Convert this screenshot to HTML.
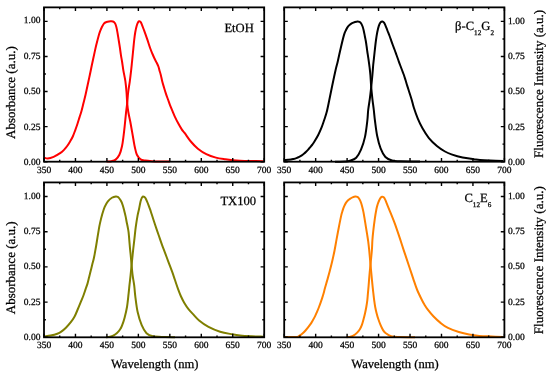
<!DOCTYPE html><html><head><meta charset="utf-8"><style>html,body{margin:0;padding:0;background:#fff;}svg{display:block;will-change:transform}</style></head><body>
<svg width="550" height="376" viewBox="0 0 550 376">
<rect width="550" height="376" fill="#fff"/>
<g font-family="'Liberation Serif', serif" fill="#000" text-rendering="geometricPrecision" stroke="#000" stroke-width="0.25">
<path d="M44.30,157.60 C44.87,157.75 46.15,158.63 47.70,158.50 C49.25,158.37 51.47,157.73 53.60,156.80 C55.73,155.87 58.73,154.10 60.50,152.90 C62.27,151.70 63.08,150.75 64.20,149.60 C65.32,148.45 66.22,147.35 67.20,146.00 C68.18,144.65 69.17,143.08 70.10,141.50 C71.03,139.92 71.95,138.37 72.80,136.50 C73.65,134.63 74.42,132.43 75.20,130.30 C75.98,128.17 76.78,125.85 77.50,123.70 C78.22,121.55 78.83,119.52 79.50,117.40 C80.17,115.28 80.83,113.40 81.50,111.00 C82.17,108.60 82.82,105.75 83.50,103.00 C84.18,100.25 84.80,98.00 85.60,94.50 C86.40,91.00 87.60,85.25 88.30,82.00 C89.00,78.75 89.28,77.45 89.80,75.00 C90.32,72.55 90.87,69.85 91.40,67.30 C91.93,64.75 92.47,62.18 93.00,59.70 C93.53,57.22 94.07,54.80 94.60,52.40 C95.13,50.00 95.53,48.05 96.20,45.30 C96.87,42.55 97.93,38.28 98.60,35.90 C99.27,33.52 99.67,32.45 100.20,31.00 C100.73,29.55 101.15,28.48 101.80,27.20 C102.45,25.92 103.32,24.17 104.10,23.30 C104.88,22.43 105.70,22.32 106.50,22.00 C107.30,21.68 108.15,21.52 108.90,21.40 C109.65,21.28 110.33,21.28 111.00,21.30 C111.67,21.32 112.32,21.28 112.90,21.50 C113.48,21.72 114.05,22.10 114.50,22.60 C114.95,23.10 115.20,23.37 115.60,24.50 C116.00,25.63 116.42,27.00 116.90,29.40 C117.38,31.80 118.02,35.97 118.50,38.90 C118.98,41.83 119.40,44.33 119.80,47.00 C120.20,49.67 120.50,52.32 120.90,54.90 C121.30,57.48 121.78,59.88 122.20,62.50 C122.62,65.12 122.87,67.47 123.40,70.60 C123.93,73.73 124.88,77.73 125.40,81.30 C125.92,84.87 126.20,88.38 126.50,92.00 C126.80,95.62 126.90,99.67 127.20,103.00 C127.50,106.33 127.80,108.95 128.30,112.00 C128.80,115.05 129.57,117.98 130.20,121.30 C130.83,124.62 131.53,128.70 132.10,131.90 C132.67,135.10 133.15,137.98 133.60,140.50 C134.05,143.02 134.25,144.62 134.80,147.00 C135.35,149.38 135.93,152.75 136.90,154.80 C137.87,156.85 139.18,158.33 140.60,159.30 C142.02,160.27 143.53,160.28 145.40,160.60 C147.27,160.92 149.37,161.05 151.80,161.20 C154.23,161.35 156.97,161.43 160.00,161.50 C163.03,161.57 168.33,161.58 170.00,161.60" fill="none" stroke="#ff0000" stroke-width="2" stroke-linejoin="round" stroke-linecap="butt"/>
<path d="M106.50,161.50 C106.83,161.48 107.68,161.45 108.50,161.40 C109.32,161.35 110.22,161.50 111.40,161.20 C112.58,160.90 114.27,160.67 115.60,159.60 C116.93,158.53 118.33,157.02 119.40,154.80 C120.47,152.58 121.30,149.50 122.00,146.30 C122.70,143.10 123.12,139.32 123.60,135.60 C124.08,131.88 124.48,127.93 124.90,124.00 C125.32,120.07 125.72,115.50 126.10,112.00 C126.48,108.50 126.85,106.33 127.20,103.00 C127.55,99.67 127.77,95.62 128.20,92.00 C128.63,88.38 129.32,84.87 129.80,81.30 C130.28,77.73 130.73,73.82 131.10,70.60 C131.47,67.38 131.68,65.10 132.00,62.00 C132.32,58.90 132.63,55.67 133.00,52.00 C133.37,48.33 133.82,43.33 134.20,40.00 C134.58,36.67 134.88,34.37 135.30,32.00 C135.72,29.63 136.22,27.47 136.70,25.80 C137.18,24.13 137.78,22.75 138.20,22.00 C138.62,21.25 138.82,21.32 139.20,21.30 C139.58,21.28 140.10,21.48 140.50,21.90 C140.90,22.32 141.02,22.42 141.60,23.80 C142.18,25.18 143.08,27.68 144.00,30.20 C144.92,32.72 146.05,35.85 147.10,38.90 C148.15,41.95 149.40,45.98 150.30,48.50 C151.20,51.02 151.80,52.33 152.50,54.00 C153.20,55.67 153.80,57.03 154.50,58.50 C155.20,59.97 156.05,61.47 156.70,62.80 C157.35,64.13 157.93,65.22 158.40,66.50 C158.87,67.78 159.10,69.08 159.50,70.50 C159.90,71.92 160.35,73.22 160.80,75.00 C161.25,76.78 161.67,79.12 162.20,81.20 C162.73,83.28 163.37,85.38 164.00,87.50 C164.63,89.62 165.33,91.90 166.00,93.90 C166.67,95.90 167.33,97.63 168.00,99.50 C168.67,101.37 169.28,103.23 170.00,105.10 C170.72,106.97 171.52,108.83 172.30,110.70 C173.08,112.57 173.72,114.20 174.70,116.30 C175.68,118.40 177.00,121.08 178.20,123.30 C179.40,125.52 180.80,127.95 181.90,129.60 C183.00,131.25 183.32,131.22 184.80,133.20 C186.28,135.18 188.62,138.92 190.80,141.50 C192.98,144.08 195.32,146.60 197.90,148.70 C200.48,150.80 203.30,152.62 206.30,154.10 C209.30,155.58 212.70,156.73 215.90,157.60 C219.10,158.47 222.65,158.87 225.50,159.30 C228.35,159.73 230.58,159.97 233.00,160.20 C235.42,160.43 237.17,160.57 240.00,160.70 C242.83,160.83 246.13,160.92 250.00,161.00 C253.87,161.08 261.00,161.17 263.20,161.20" fill="none" stroke="#ff0000" stroke-width="2" stroke-linejoin="round" stroke-linecap="butt"/>
<rect x="44.00" y="7.37" width="220.20" height="154.33" fill="none" stroke="#000" stroke-width="1.80"/>
<path d="M44.00,161.70V158.10M44.00,7.37V10.97M59.73,161.70V159.80M59.73,7.37V9.27M75.46,161.70V158.10M75.46,7.37V10.97M91.19,161.70V159.80M91.19,7.37V9.27M106.91,161.70V158.10M106.91,7.37V10.97M122.64,161.70V159.80M122.64,7.37V9.27M138.37,161.70V158.10M138.37,7.37V10.97M154.10,161.70V159.80M154.10,7.37V9.27M169.83,161.70V158.10M169.83,7.37V10.97M185.56,161.70V159.80M185.56,7.37V9.27M201.29,161.70V158.10M201.29,7.37V10.97M217.01,161.70V159.80M217.01,7.37V9.27M232.74,161.70V158.10M232.74,7.37V10.97M248.47,161.70V159.80M248.47,7.37V9.27M264.20,161.70V158.10M264.20,7.37V10.97M44.00,161.70H47.60M264.20,161.70H260.60M44.00,144.16H45.90M264.20,144.16H262.30M44.00,126.62H47.60M264.20,126.62H260.60M44.00,109.09H45.90M264.20,109.09H262.30M44.00,91.55H47.60M264.20,91.55H260.60M44.00,74.01H45.90M264.20,74.01H262.30M44.00,56.47H47.60M264.20,56.47H260.60M44.00,38.94H45.90M264.20,38.94H262.30M44.00,21.40H47.60M264.20,21.40H260.60" stroke="#000" stroke-width="1.40" fill="none"/>
<text x="44.00" y="172.90" font-size="9.50" text-anchor="middle">350</text>
<text x="75.46" y="172.90" font-size="9.50" text-anchor="middle">400</text>
<text x="106.91" y="172.90" font-size="9.50" text-anchor="middle">450</text>
<text x="138.37" y="172.90" font-size="9.50" text-anchor="middle">500</text>
<text x="169.83" y="172.90" font-size="9.50" text-anchor="middle">550</text>
<text x="201.29" y="172.90" font-size="9.50" text-anchor="middle">600</text>
<text x="232.74" y="172.90" font-size="9.50" text-anchor="middle">650</text>
<text x="264.20" y="172.90" font-size="9.50" text-anchor="middle">700</text>
<text x="40.40" y="165.00" font-size="9.50" text-anchor="end">0.00</text>
<text x="40.40" y="129.57" font-size="9.50" text-anchor="end">0.25</text>
<text x="40.40" y="94.15" font-size="9.50" text-anchor="end">0.50</text>
<text x="40.40" y="58.72" font-size="9.50" text-anchor="end">0.75</text>
<text x="40.40" y="23.30" font-size="9.50" text-anchor="end">1.00</text>
<path d="M284.90,159.90 C285.42,159.88 287.00,159.85 288.00,159.80 C289.00,159.75 289.98,159.73 290.90,159.60 C291.82,159.47 292.58,159.25 293.50,159.00 C294.42,158.75 295.45,158.45 296.40,158.10 C297.35,157.75 298.30,157.35 299.20,156.90 C300.10,156.45 300.97,155.95 301.80,155.40 C302.63,154.85 303.48,154.20 304.20,153.60 C304.92,153.00 305.43,152.47 306.10,151.80 C306.77,151.13 307.50,150.38 308.20,149.60 C308.90,148.82 309.58,147.97 310.30,147.10 C311.02,146.23 311.78,145.37 312.50,144.40 C313.22,143.43 313.65,142.87 314.60,141.30 C315.55,139.73 317.05,137.27 318.20,135.00 C319.35,132.73 320.50,130.20 321.50,127.70 C322.50,125.20 323.33,122.60 324.20,120.00 C325.07,117.40 325.87,115.35 326.70,112.10 C327.53,108.85 328.32,104.73 329.20,100.50 C330.08,96.27 330.93,91.78 332.00,86.70 C333.07,81.62 334.63,74.23 335.60,70.00 C336.57,65.77 336.90,65.15 337.80,61.30 C338.70,57.45 339.95,51.35 341.00,46.90 C342.05,42.45 343.27,37.42 344.10,34.60 C344.93,31.78 345.42,31.25 346.00,30.00 C346.58,28.75 346.97,27.97 347.60,27.10 C348.23,26.23 349.05,25.45 349.80,24.80 C350.55,24.15 351.23,23.67 352.10,23.20 C352.97,22.73 354.10,22.30 355.00,22.00 C355.90,21.70 356.75,21.43 357.50,21.40 C358.25,21.37 358.88,21.45 359.50,21.80 C360.12,22.15 360.68,22.72 361.20,23.50 C361.72,24.28 362.18,25.33 362.60,26.50 C363.02,27.67 363.33,28.92 363.70,30.50 C364.07,32.08 364.45,34.25 364.80,36.00 C365.15,37.75 365.48,39.17 365.80,41.00 C366.12,42.83 366.45,45.25 366.70,47.00 C366.95,48.75 367.02,49.57 367.30,51.50 C367.58,53.43 368.02,55.93 368.40,58.60 C368.78,61.27 369.27,64.77 369.60,67.50 C369.93,70.23 370.13,71.75 370.40,75.00 C370.67,78.25 370.87,83.00 371.20,87.00 C371.53,91.00 371.97,95.17 372.40,99.00 C372.83,102.83 373.37,106.33 373.80,110.00 C374.23,113.67 374.43,116.67 375.00,121.00 C375.57,125.33 376.27,131.43 377.20,136.00 C378.13,140.57 379.23,144.90 380.60,148.40 C381.97,151.90 383.50,154.98 385.40,157.00 C387.30,159.02 389.57,159.80 392.00,160.50 C394.43,161.20 395.33,161.05 400.00,161.20 C404.67,161.35 416.67,161.37 420.00,161.40" fill="none" stroke="#000000" stroke-width="2" stroke-linejoin="round" stroke-linecap="butt"/>
<path d="M335.00,161.70 C336.67,161.67 342.53,161.65 345.00,161.50 C347.47,161.35 347.93,161.43 349.80,160.80 C351.67,160.17 354.33,159.55 356.20,157.70 C358.07,155.85 359.53,153.17 361.00,149.70 C362.47,146.23 363.95,141.68 365.00,136.90 C366.05,132.12 366.77,125.48 367.30,121.00 C367.83,116.52 367.78,113.67 368.20,110.00 C368.62,106.33 369.30,102.83 369.80,99.00 C370.30,95.17 370.77,91.00 371.20,87.00 C371.63,83.00 372.07,78.67 372.40,75.00 C372.73,71.33 372.95,67.73 373.20,65.00 C373.45,62.27 373.62,61.22 373.90,58.60 C374.18,55.98 374.55,52.40 374.90,49.30 C375.25,46.20 375.60,42.88 376.00,40.00 C376.40,37.12 376.82,34.40 377.30,32.00 C377.78,29.60 378.37,27.22 378.90,25.60 C379.43,23.98 379.90,23.00 380.50,22.30 C381.10,21.60 381.92,21.35 382.50,21.40 C383.08,21.45 383.53,21.98 384.00,22.60 C384.47,23.22 384.73,23.78 385.30,25.10 C385.87,26.42 386.68,28.68 387.40,30.50 C388.12,32.32 388.95,34.28 389.60,36.00 C390.25,37.72 390.77,39.30 391.30,40.80 C391.83,42.30 392.23,43.47 392.80,45.00 C393.37,46.53 394.08,48.33 394.70,50.00 C395.32,51.67 395.90,53.33 396.50,55.00 C397.10,56.67 397.70,58.33 398.30,60.00 C398.90,61.67 399.48,63.33 400.10,65.00 C400.72,66.67 401.37,68.33 402.00,70.00 C402.63,71.67 403.32,73.33 403.90,75.00 C404.48,76.67 404.98,78.33 405.50,80.00 C406.02,81.67 406.48,83.33 407.00,85.00 C407.52,86.67 408.07,88.33 408.60,90.00 C409.13,91.67 409.65,93.25 410.20,95.00 C410.75,96.75 411.30,98.42 411.90,100.50 C412.50,102.58 412.82,104.48 413.80,107.50 C414.78,110.52 416.35,115.13 417.80,118.60 C419.25,122.07 420.65,125.05 422.50,128.30 C424.35,131.55 426.50,135.15 428.90,138.10 C431.30,141.05 434.22,143.77 436.90,146.00 C439.58,148.23 442.57,150.10 445.00,151.50 C447.43,152.90 448.57,153.38 451.50,154.40 C454.43,155.42 458.88,156.80 462.60,157.60 C466.32,158.40 470.90,158.80 473.80,159.20 C476.70,159.60 477.30,159.77 480.00,160.00 C482.70,160.23 486.12,160.42 490.00,160.60 C493.88,160.78 501.08,161.02 503.30,161.10" fill="none" stroke="#000000" stroke-width="2" stroke-linejoin="round" stroke-linecap="butt"/>
<rect x="284.20" y="7.37" width="220.20" height="154.33" fill="none" stroke="#000" stroke-width="1.80"/>
<path d="M284.20,161.70V158.10M284.20,7.37V10.97M299.93,161.70V159.80M299.93,7.37V9.27M315.66,161.70V158.10M315.66,7.37V10.97M331.39,161.70V159.80M331.39,7.37V9.27M347.11,161.70V158.10M347.11,7.37V10.97M362.84,161.70V159.80M362.84,7.37V9.27M378.57,161.70V158.10M378.57,7.37V10.97M394.30,161.70V159.80M394.30,7.37V9.27M410.03,161.70V158.10M410.03,7.37V10.97M425.76,161.70V159.80M425.76,7.37V9.27M441.49,161.70V158.10M441.49,7.37V10.97M457.21,161.70V159.80M457.21,7.37V9.27M472.94,161.70V158.10M472.94,7.37V10.97M488.67,161.70V159.80M488.67,7.37V9.27M504.40,161.70V158.10M504.40,7.37V10.97M284.20,161.70H287.80M504.40,161.70H500.80M284.20,144.16H286.10M504.40,144.16H502.50M284.20,126.62H287.80M504.40,126.62H500.80M284.20,109.09H286.10M504.40,109.09H502.50M284.20,91.55H287.80M504.40,91.55H500.80M284.20,74.01H286.10M504.40,74.01H502.50M284.20,56.47H287.80M504.40,56.47H500.80M284.20,38.94H286.10M504.40,38.94H502.50M284.20,21.40H287.80M504.40,21.40H500.80" stroke="#000" stroke-width="1.40" fill="none"/>
<text x="284.20" y="172.90" font-size="9.50" text-anchor="middle">350</text>
<text x="315.66" y="172.90" font-size="9.50" text-anchor="middle">400</text>
<text x="347.11" y="172.90" font-size="9.50" text-anchor="middle">450</text>
<text x="378.57" y="172.90" font-size="9.50" text-anchor="middle">500</text>
<text x="410.03" y="172.90" font-size="9.50" text-anchor="middle">550</text>
<text x="441.49" y="172.90" font-size="9.50" text-anchor="middle">600</text>
<text x="472.94" y="172.90" font-size="9.50" text-anchor="middle">650</text>
<text x="504.40" y="172.90" font-size="9.50" text-anchor="middle">700</text>
<text x="508.10" y="165.20" font-size="9.50">0.00</text>
<text x="508.10" y="129.77" font-size="9.50">0.25</text>
<text x="508.10" y="94.35" font-size="9.50">0.50</text>
<text x="508.10" y="58.92" font-size="9.50">0.75</text>
<text x="508.10" y="23.50" font-size="9.50">1.00</text>
<path d="M44.70,336.40 C45.68,336.26 48.50,336.03 50.60,335.59 C52.70,335.16 55.52,334.44 57.30,333.79 C59.08,333.14 59.87,332.69 61.30,331.68 C62.73,330.68 64.35,329.31 65.90,327.77 C67.45,326.23 69.15,324.34 70.60,322.45 C72.05,320.56 73.38,318.67 74.60,316.43 C75.82,314.19 76.80,311.58 77.90,309.01 C79.00,306.43 80.23,303.36 81.20,300.98 C82.17,298.61 82.97,296.74 83.70,294.76 C84.43,292.79 84.97,291.00 85.60,289.14 C86.23,287.29 86.92,285.62 87.50,283.63 C88.08,281.64 88.57,279.35 89.10,277.21 C89.63,275.07 90.17,272.93 90.70,270.79 C91.23,268.65 91.77,266.49 92.30,264.36 C92.83,262.24 93.43,260.15 93.90,258.04 C94.37,255.94 94.72,253.81 95.10,251.72 C95.48,249.63 95.80,247.89 96.20,245.50 C96.60,243.11 97.08,239.94 97.50,237.38 C97.92,234.82 98.30,232.44 98.70,230.15 C99.10,227.86 99.30,226.33 99.90,223.63 C100.50,220.94 101.50,216.81 102.30,214.00 C103.10,211.19 103.77,208.90 104.70,206.78 C105.63,204.66 106.70,202.77 107.90,201.26 C109.10,199.76 110.57,198.55 111.90,197.75 C113.23,196.95 114.92,196.58 115.90,196.45 C116.88,196.31 117.25,196.65 117.80,196.95 C118.35,197.25 118.62,197.50 119.20,198.25 C119.78,199.00 120.68,200.22 121.30,201.46 C121.92,202.70 122.40,204.07 122.90,205.68 C123.40,207.28 123.85,209.30 124.30,211.09 C124.75,212.88 125.22,214.64 125.60,216.41 C125.98,218.18 126.25,219.95 126.60,221.73 C126.95,223.50 127.37,225.27 127.70,227.04 C128.03,228.82 128.33,230.17 128.60,232.36 C128.87,234.55 129.07,237.49 129.30,240.19 C129.53,242.88 129.77,246.01 130.00,248.51 C130.23,251.02 130.48,253.01 130.70,255.24 C130.92,257.46 130.98,258.53 131.30,261.86 C131.62,265.18 132.12,271.29 132.60,275.20 C133.08,279.11 133.75,281.80 134.20,285.33 C134.65,288.86 134.72,291.87 135.30,296.37 C135.88,300.87 136.63,307.52 137.70,312.32 C138.77,317.12 140.23,321.68 141.70,325.16 C143.17,328.64 144.63,331.33 146.50,333.19 C148.37,335.04 149.82,335.66 152.90,336.30 C155.98,336.93 161.32,336.85 165.00,337.00 C168.68,337.15 173.33,337.17 175.00,337.20" fill="none" stroke="#7f7f00" stroke-width="2" stroke-linejoin="round" stroke-linecap="butt"/>
<path d="M106.00,337.20 C106.42,337.17 107.67,337.12 108.50,337.00 C109.33,336.88 110.07,336.82 111.00,336.50 C111.93,336.18 113.10,335.69 114.10,335.09 C115.10,334.49 116.15,333.64 117.00,332.89 C117.85,332.13 118.60,331.30 119.20,330.58 C119.80,329.86 120.12,329.42 120.60,328.57 C121.08,327.72 121.43,327.28 122.10,325.46 C122.77,323.64 123.78,320.71 124.60,317.64 C125.42,314.56 126.33,311.00 127.00,307.00 C127.67,303.01 128.18,297.35 128.60,293.66 C129.02,289.96 129.17,287.91 129.50,284.83 C129.83,281.75 130.20,279.03 130.60,275.20 C131.00,271.37 131.45,266.30 131.90,261.86 C132.35,257.41 132.87,252.46 133.30,248.51 C133.73,244.57 134.10,241.71 134.50,238.18 C134.90,234.65 135.18,231.14 135.70,227.35 C136.22,223.55 137.05,218.43 137.60,215.41 C138.15,212.38 138.50,211.54 139.00,209.19 C139.50,206.83 140.13,203.15 140.60,201.26 C141.07,199.37 141.40,198.65 141.80,197.85 C142.20,197.05 142.58,196.61 143.00,196.45 C143.42,196.28 143.90,196.58 144.30,196.85 C144.70,197.11 144.95,197.30 145.40,198.05 C145.85,198.80 146.47,200.16 147.00,201.36 C147.53,202.57 148.07,203.89 148.60,205.27 C149.13,206.66 149.68,208.18 150.20,209.69 C150.72,211.19 150.88,211.79 151.70,214.30 C152.52,216.81 153.95,221.29 155.10,224.74 C156.25,228.18 157.42,231.53 158.60,234.97 C159.78,238.41 161.25,242.76 162.20,245.40 C163.15,248.05 163.28,248.13 164.30,250.82 C165.32,253.51 166.97,257.99 168.30,261.56 C169.63,265.12 171.22,269.20 172.30,272.19 C173.38,275.18 173.85,276.74 174.80,279.51 C175.75,282.29 177.00,286.10 178.00,288.84 C179.00,291.59 179.77,293.66 180.80,295.97 C181.83,298.27 182.92,300.50 184.20,302.69 C185.48,304.88 186.98,307.15 188.50,309.11 C190.02,311.07 191.53,312.54 193.30,314.43 C195.07,316.32 196.57,318.37 199.10,320.45 C201.63,322.52 205.00,324.99 208.50,326.87 C212.00,328.74 216.15,330.44 220.10,331.68 C224.05,332.92 228.88,333.65 232.20,334.29 C235.52,334.93 236.70,335.16 240.00,335.49 C243.30,335.83 248.12,336.10 252.00,336.30 C255.88,336.50 261.42,336.63 263.30,336.70" fill="none" stroke="#7f7f00" stroke-width="2" stroke-linejoin="round" stroke-linecap="butt"/>
<rect x="44.00" y="182.42" width="220.20" height="154.88" fill="none" stroke="#000" stroke-width="1.80"/>
<path d="M44.00,337.30V333.70M44.00,182.42V186.02M59.73,337.30V335.40M59.73,182.42V184.32M75.46,337.30V333.70M75.46,182.42V186.02M91.19,337.30V335.40M91.19,182.42V184.32M106.91,337.30V333.70M106.91,182.42V186.02M122.64,337.30V335.40M122.64,182.42V184.32M138.37,337.30V333.70M138.37,182.42V186.02M154.10,337.30V335.40M154.10,182.42V184.32M169.83,337.30V333.70M169.83,182.42V186.02M185.56,337.30V335.40M185.56,182.42V184.32M201.29,337.30V333.70M201.29,182.42V186.02M217.01,337.30V335.40M217.01,182.42V184.32M232.74,337.30V333.70M232.74,182.42V186.02M248.47,337.30V335.40M248.47,182.42V184.32M264.20,337.30V333.70M264.20,182.42V186.02M44.00,337.30H47.60M264.20,337.30H260.60M44.00,319.70H45.90M264.20,319.70H262.30M44.00,302.10H47.60M264.20,302.10H260.60M44.00,284.50H45.90M264.20,284.50H262.30M44.00,266.90H47.60M264.20,266.90H260.60M44.00,249.30H45.90M264.20,249.30H262.30M44.00,231.70H47.60M264.20,231.70H260.60M44.00,214.10H45.90M264.20,214.10H262.30M44.00,196.50H47.60M264.20,196.50H260.60" stroke="#000" stroke-width="1.40" fill="none"/>
<text x="44.00" y="347.70" font-size="9.50" text-anchor="middle">350</text>
<text x="75.46" y="347.70" font-size="9.50" text-anchor="middle">400</text>
<text x="106.91" y="347.70" font-size="9.50" text-anchor="middle">450</text>
<text x="138.37" y="347.70" font-size="9.50" text-anchor="middle">500</text>
<text x="169.83" y="347.70" font-size="9.50" text-anchor="middle">550</text>
<text x="201.29" y="347.70" font-size="9.50" text-anchor="middle">600</text>
<text x="232.74" y="347.70" font-size="9.50" text-anchor="middle">650</text>
<text x="264.20" y="347.70" font-size="9.50" text-anchor="middle">700</text>
<text x="40.40" y="339.70" font-size="9.50" text-anchor="end">0.00</text>
<text x="40.40" y="304.50" font-size="9.50" text-anchor="end">0.25</text>
<text x="40.40" y="269.30" font-size="9.50" text-anchor="end">0.50</text>
<text x="40.40" y="234.10" font-size="9.50" text-anchor="end">0.75</text>
<text x="40.40" y="198.90" font-size="9.50" text-anchor="end">1.00</text>
<path d="M284.50,337.10 C286.55,337.08 294.47,337.13 296.80,337.00 C299.13,336.87 297.70,336.75 298.50,336.30 C299.30,335.85 300.43,335.26 301.60,334.29 C302.77,333.32 304.05,332.13 305.50,330.48 C306.95,328.82 309.10,326.03 310.30,324.36 C311.50,322.69 311.92,321.78 312.70,320.45 C313.48,319.11 314.27,317.79 315.00,316.33 C315.73,314.88 316.43,313.27 317.10,311.72 C317.77,310.16 318.40,308.56 319.00,307.00 C319.60,305.45 320.15,303.94 320.70,302.39 C321.25,300.83 321.80,299.23 322.30,297.67 C322.80,296.12 323.27,294.61 323.70,293.06 C324.13,291.50 324.32,290.47 324.90,288.34 C325.48,286.22 326.40,283.16 327.20,280.32 C328.00,277.47 328.87,274.46 329.70,271.29 C330.53,268.11 331.40,264.68 332.20,261.25 C333.00,257.83 333.78,254.32 334.50,250.72 C335.22,247.13 335.78,243.56 336.50,239.68 C337.22,235.81 338.02,231.46 338.80,227.45 C339.58,223.43 340.60,218.30 341.20,215.61 C341.80,212.92 342.00,212.63 342.40,211.29 C342.80,209.96 343.02,208.99 343.60,207.58 C344.18,206.18 345.20,204.04 345.90,202.87 C346.60,201.70 347.13,201.23 347.80,200.56 C348.47,199.89 349.12,199.39 349.90,198.85 C350.68,198.32 351.57,197.75 352.50,197.35 C353.43,196.95 354.70,196.53 355.50,196.45 C356.30,196.36 356.77,196.58 357.30,196.85 C357.83,197.11 358.22,197.43 358.70,198.05 C359.18,198.67 359.77,199.64 360.20,200.56 C360.63,201.48 360.93,202.40 361.30,203.57 C361.67,204.74 362.03,206.11 362.40,207.58 C362.77,209.05 363.12,210.42 363.50,212.40 C363.88,214.37 364.30,217.01 364.70,219.42 C365.10,221.83 365.50,224.39 365.90,226.84 C366.30,229.30 366.72,231.74 367.10,234.17 C367.48,236.59 367.85,238.72 368.20,241.39 C368.55,244.07 368.82,246.37 369.20,250.22 C369.58,254.06 370.03,259.45 370.50,264.46 C370.97,269.48 371.63,276.50 372.00,280.32 C372.37,284.13 372.47,285.11 372.70,287.34 C372.93,289.56 373.15,291.49 373.40,293.66 C373.65,295.83 373.90,298.16 374.20,300.38 C374.50,302.60 374.80,304.86 375.20,307.00 C375.60,309.14 376.08,311.22 376.60,313.22 C377.12,315.23 377.65,317.08 378.30,319.04 C378.95,321.00 379.73,323.15 380.50,324.96 C381.27,326.77 382.07,328.54 382.90,329.88 C383.73,331.21 384.13,331.92 385.50,332.99 C386.87,334.06 388.68,335.61 391.10,336.30 C393.52,336.98 396.02,336.93 400.00,337.10 C403.98,337.27 412.50,337.27 415.00,337.30" fill="none" stroke="#ff8000" stroke-width="2" stroke-linejoin="round" stroke-linecap="butt"/>
<path d="M346.50,337.20 C346.83,337.17 347.83,337.08 348.50,337.00 C349.17,336.92 349.70,336.92 350.50,336.70 C351.30,336.48 352.23,336.33 353.30,335.69 C354.37,335.06 355.83,333.91 356.90,332.89 C357.97,331.87 358.87,330.90 359.70,329.58 C360.53,328.25 361.25,326.72 361.90,324.96 C362.55,323.20 363.07,321.05 363.60,319.04 C364.13,317.03 364.65,314.93 365.10,312.92 C365.55,310.91 365.93,309.09 366.30,307.00 C366.67,304.91 367.03,302.60 367.30,300.38 C367.57,298.16 367.68,296.08 367.90,293.66 C368.12,291.23 368.40,288.22 368.60,285.83 C368.80,283.44 368.92,281.57 369.10,279.31 C369.28,277.06 369.47,274.76 369.70,272.29 C369.93,269.82 370.13,268.21 370.50,264.46 C370.87,260.72 371.58,253.86 371.90,249.82 C372.22,245.77 372.18,243.21 372.40,240.19 C372.62,237.16 372.80,235.22 373.20,231.66 C373.60,228.10 374.27,222.56 374.80,218.82 C375.33,215.07 375.93,211.56 376.40,209.19 C376.87,206.81 377.20,205.89 377.60,204.57 C378.00,203.25 378.33,202.35 378.80,201.26 C379.27,200.17 379.87,198.80 380.40,198.05 C380.93,197.30 381.45,196.86 382.00,196.75 C382.55,196.63 383.17,196.86 383.70,197.35 C384.23,197.83 384.57,198.33 385.20,199.66 C385.83,200.98 386.58,203.02 387.50,205.27 C388.42,207.53 389.63,210.54 390.70,213.20 C391.77,215.86 392.83,218.42 393.90,221.23 C394.97,224.03 396.03,226.99 397.10,230.05 C398.17,233.11 399.22,236.29 400.30,239.58 C401.38,242.88 402.52,246.52 403.60,249.82 C404.68,253.11 405.73,256.15 406.80,259.35 C407.87,262.54 408.93,265.77 410.00,268.98 C411.07,272.19 412.02,275.15 413.20,278.61 C414.38,282.07 415.65,286.19 417.10,289.75 C418.55,293.31 420.65,297.45 421.90,299.98 C423.15,302.50 423.65,303.32 424.60,304.90 C425.55,306.47 426.10,307.47 427.60,309.41 C429.10,311.35 431.40,314.24 433.60,316.53 C435.80,318.82 438.40,321.25 440.80,323.15 C443.20,325.06 445.00,326.50 448.00,327.97 C451.00,329.44 455.28,330.90 458.80,331.98 C462.32,333.07 465.68,333.84 469.10,334.49 C472.52,335.14 475.48,335.56 479.30,335.90 C483.12,336.23 488.00,336.33 492.00,336.50 C496.00,336.66 501.42,336.83 503.30,336.90" fill="none" stroke="#ff8000" stroke-width="2" stroke-linejoin="round" stroke-linecap="butt"/>
<rect x="284.20" y="182.42" width="220.20" height="154.88" fill="none" stroke="#000" stroke-width="1.80"/>
<path d="M284.20,337.30V333.70M284.20,182.42V186.02M299.93,337.30V335.40M299.93,182.42V184.32M315.66,337.30V333.70M315.66,182.42V186.02M331.39,337.30V335.40M331.39,182.42V184.32M347.11,337.30V333.70M347.11,182.42V186.02M362.84,337.30V335.40M362.84,182.42V184.32M378.57,337.30V333.70M378.57,182.42V186.02M394.30,337.30V335.40M394.30,182.42V184.32M410.03,337.30V333.70M410.03,182.42V186.02M425.76,337.30V335.40M425.76,182.42V184.32M441.49,337.30V333.70M441.49,182.42V186.02M457.21,337.30V335.40M457.21,182.42V184.32M472.94,337.30V333.70M472.94,182.42V186.02M488.67,337.30V335.40M488.67,182.42V184.32M504.40,337.30V333.70M504.40,182.42V186.02M284.20,337.30H287.80M504.40,337.30H500.80M284.20,319.70H286.10M504.40,319.70H502.50M284.20,302.10H287.80M504.40,302.10H500.80M284.20,284.50H286.10M504.40,284.50H502.50M284.20,266.90H287.80M504.40,266.90H500.80M284.20,249.30H286.10M504.40,249.30H502.50M284.20,231.70H287.80M504.40,231.70H500.80M284.20,214.10H286.10M504.40,214.10H502.50M284.20,196.50H287.80M504.40,196.50H500.80" stroke="#000" stroke-width="1.40" fill="none"/>
<text x="284.20" y="347.70" font-size="9.50" text-anchor="middle">350</text>
<text x="315.66" y="347.70" font-size="9.50" text-anchor="middle">400</text>
<text x="347.11" y="347.70" font-size="9.50" text-anchor="middle">450</text>
<text x="378.57" y="347.70" font-size="9.50" text-anchor="middle">500</text>
<text x="410.03" y="347.70" font-size="9.50" text-anchor="middle">550</text>
<text x="441.49" y="347.70" font-size="9.50" text-anchor="middle">600</text>
<text x="472.94" y="347.70" font-size="9.50" text-anchor="middle">650</text>
<text x="504.40" y="347.70" font-size="9.50" text-anchor="middle">700</text>
<text x="508.10" y="339.70" font-size="9.50">0.00</text>
<text x="508.10" y="304.50" font-size="9.50">0.25</text>
<text x="508.10" y="269.30" font-size="9.50">0.50</text>
<text x="508.10" y="234.10" font-size="9.50">0.75</text>
<text x="508.10" y="198.90" font-size="9.50">1.00</text>
<text x="253.8" y="32.3" font-size="12.60" text-anchor="end">EtOH</text>
<text x="256.1" y="204.9" font-size="12.60" text-anchor="end">TX100</text>
<text x="494.0" y="30.1" font-size="12.60" text-anchor="end">&#946;-C<tspan font-size="7.2" dy="5">12</tspan><tspan dy="-5">G</tspan><tspan font-size="7.2" dy="5">2</tspan></text>
<text x="491.3" y="202.1" font-size="12.60" text-anchor="end">C<tspan font-size="7.2" dy="5">12</tspan><tspan dy="-5">E</tspan><tspan font-size="7.2" dy="5">6</tspan></text>
<text transform="translate(14.80,92.60) rotate(-90)" font-size="13.00" text-anchor="middle">Absorbance (a.u.)</text>
<text transform="translate(14.80,267.80) rotate(-90)" font-size="13.00" text-anchor="middle">Absorbance (a.u.)</text>
<text transform="translate(543.00,83.90) rotate(-90)" font-size="13.00" text-anchor="middle">Fluorescence Intensity (a.u.)</text>
<text transform="translate(543.00,260.20) rotate(-90)" font-size="13.00" text-anchor="middle">Fluorescence Intensity (a.u.)</text>
<text x="154.70" y="367.5" font-size="12.60" text-anchor="middle">Wavelength (nm)</text>
<text x="395.00" y="367.5" font-size="12.60" text-anchor="middle">Wavelength (nm)</text>
</g></svg></body></html>
